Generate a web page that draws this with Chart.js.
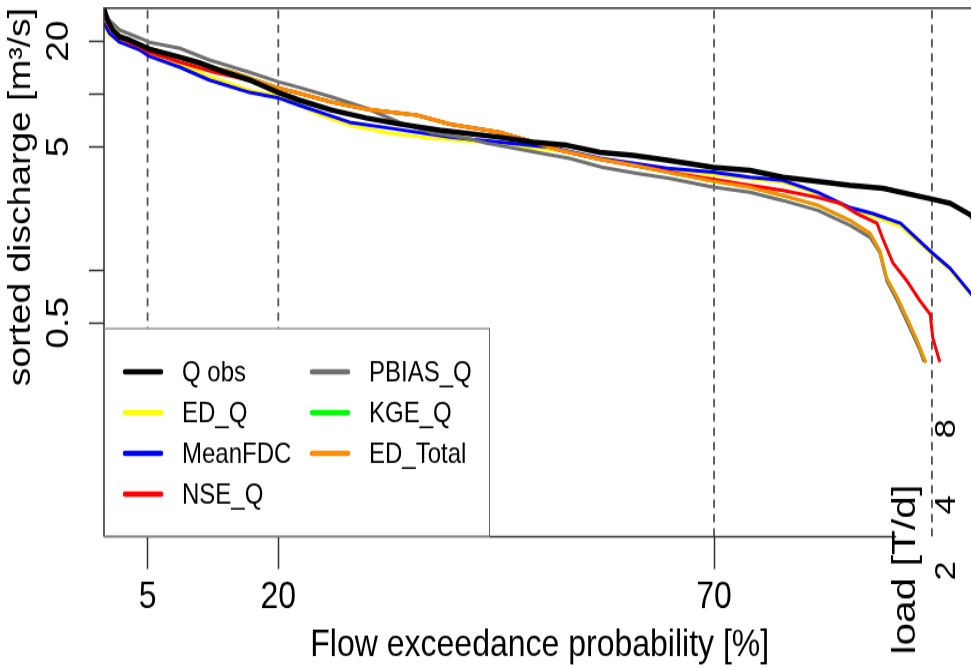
<!DOCTYPE html>
<html>
<head>
<meta charset="utf-8">
<title>Flow duration curves</title>
<script src="https://cdn.jsdelivr.net/npm/chart.js@4.4.1/dist/chart.umd.min.js"></script>
<style>
  html, body { margin: 0; padding: 0; background: #fff; overflow: hidden; }
  #wrap { width: 971px; height: 668px; overflow: hidden; }
</style>
</head>
<body>
<div id="wrap">
  <!-- drawn at 557px high and stretched to 668px, like the original export -->
  <canvas id="fdc" width="990" height="557" style="width:990px;height:668px"></canvas>
</div>
<script>
// axis ranges and ticks
const X_MIN = 0, X_MAX = 100;
const Y_MIN = 0.0304, Y_MAX = 30.8;
const xTicks = [5, 20, 70];
const refLines = [5, 20, 70, 95];
const yTicks = [0.5, 1, 5, 10, 20];
const yTickLabels = [20, 5, 0.5];
const loadTicks = ['2', '4', '8'];

// exceedance probability [%] and sorted discharge [m3/s]
const obsP = [0, 0.4, 1.0, 1.8, 2.9, 5.2, 8.7, 11.0, 13.2, 16.7, 20.0, 22.4, 26.2, 30.1, 33.9, 38.5, 45.4, 49.2, 53.1, 56.9, 60.7, 64.6, 69.9, 74.1, 77.9, 85.6, 89.4, 95.1, 97.1, 99.5, 100];
const obsQ = [30.8, 26.3, 23.1, 21.1, 20.3, 18.0, 16.2, 15.0, 13.7, 12.0, 10.2, 9.22, 8.09, 7.3, 6.75, 6.22, 5.68, 5.32, 5.11, 4.66, 4.48, 4.20, 3.83, 3.68, 3.36, 3.02, 2.91, 2.52, 2.39, 2.04, 1.86];

const edqP = [0, 0.6, 1.8, 5.2, 8.7, 12.1, 16.7, 20.1, 24.8, 28.2, 32.8, 37.7, 43.5, 47.7, 52.3, 56.9, 64.6, 69.9, 74.1, 77.9, 81.9, 85.6, 88.5, 91.4, 95.1, 97.1, 99.5, 100];
const edqQ = [24.7, 21.6, 20.3, 16.9, 14.8, 12.6, 10.5, 9.72, 7.6, 6.64, 5.98, 5.60, 5.32, 4.98, 4.79, 4.31, 3.74, 3.49, 3.30, 3.15, 2.70, 2.24, 2.00, 1.77, 1.22, 1.00, 0.72, 0.66];

const meanP = [0, 0.6, 1.8, 4.1, 5.2, 8.7, 12.1, 16.7, 20.1, 22.4, 28.2, 32.8, 39.7, 45.4, 51.2, 56.9, 64.6, 69.9, 74.1, 77.9, 81.9, 85.6, 88.2, 91.4, 95.1, 97.1, 99.5, 100];
const meanQ = [25.3, 22.2, 19.7, 17.8, 16.4, 14.2, 12.0, 10.2, 9.47, 8.63, 6.91, 6.39, 5.68, 5.32, 4.98, 4.31, 3.78, 3.59, 3.36, 3.23, 2.76, 2.26, 2.09, 1.84, 1.24, 1.02, 0.73, 0.67];

const nseP = [0, 0.6, 1.8, 4.1, 5.2, 8.7, 12.7, 16.7, 20.1, 22.4, 26.2, 30.1, 35.9, 39.7, 45.4, 49.2, 52.3, 56.9, 62.6, 66.4, 69.9, 74.1, 77.9, 81.9, 84.5, 86.4, 88.7, 89.3, 90.5, 92.1, 93.6, 94.8, 95.1, 95.9];
const nseQ = [28.5, 24.0, 20.8, 18.5, 17.3, 15.2, 13.3, 12.0, 10.8, 10.1, 8.98, 8.2, 7.57, 6.73, 6.06, 5.35, 4.79, 4.25, 3.78, 3.49, 3.27, 3.02, 2.83, 2.58, 2.39, 2.09, 1.84, 1.53, 1.10, 0.87, 0.67, 0.56, 0.41, 0.30];

const pbiasP = [0, 0.1, 0.6, 1.8, 4.1, 5.2, 8.7, 12.1, 16.7, 20.1, 22.4, 26.2, 30.1, 33.9, 37.7, 41.6, 43.9, 49.6, 53.4, 57.2, 61.1, 64.9, 69.9, 74.1, 77.9, 81.9, 85.6, 87.9, 89.0, 89.8, 91.0, 92.1, 93.6, 94.1];
const pbiasQ = [30.8, 30.0, 26.3, 23.1, 20.8, 19.7, 18.2, 15.6, 13.3, 11.7, 10.9, 9.6, 8.3, 6.9, 6.0, 5.6, 5.25, 4.66, 4.31, 3.83, 3.54, 3.31, 2.95, 2.76, 2.48, 2.18, 1.79, 1.53, 1.26, 0.87, 0.67, 0.51, 0.35, 0.30];

const edtP = [0, 0.1, 0.6, 1.8, 4.1, 5.2, 8.7, 11.0, 14.8, 20.1, 22.4, 26.2, 30.1, 35.9, 39.7, 45.4, 49.2, 52.3, 56.9, 61.1, 66.4, 69.9, 74.1, 77.9, 81.9, 85.6, 87.9, 89.0, 89.8, 91.0, 92.1, 93.3, 94.3];
const edtQ = [30.0, 28.9, 24.7, 21.6, 19.0, 18.2, 16.0, 14.8, 13.3, 10.8, 10.1, 8.98, 8.2, 7.57, 6.73, 6.06, 5.35, 4.79, 4.25, 3.90, 3.45, 3.19, 2.95, 2.65, 2.33, 1.91, 1.61, 1.29, 0.90, 0.70, 0.535, 0.395, 0.297];

// KGE_Q is not visible anywhere: it sits underneath ED_Total
const kgeP = edtP.slice();
const kgeQ = edtQ.slice();

const legendLabels = ['Q obs', 'ED_Q', 'MeanFDC', 'NSE_Q', 'PBIAS_Q', 'KGE_Q', 'ED_Total'];
const legendColors = ['#000000', '#ffff00', '#0000ff', '#ff0000', '#707070', '#00ff00', '#ff8c00'];

const toXY = (p, q) => p.map((v, i) => ({ x: v, y: q[i] }));

// lower order is drawn on top (Q obs on top of everything)
const curves = [
  { label: 'Q obs', data: toXY(obsP, obsQ), color: legendColors[0], width: 4.5, order: 0 },
  { label: 'ED_Total', data: toXY(edtP, edtQ), color: legendColors[6], width: 3, order: 1 },
  { label: 'NSE_Q', data: toXY(nseP, nseQ), color: legendColors[3], width: 3, order: 2 },
  { label: 'KGE_Q', data: toXY(kgeP, kgeQ), color: legendColors[5], width: 3, order: 3 },
  { label: 'PBIAS_Q', data: toXY(pbiasP, pbiasQ), color: legendColors[4], width: 3, order: 4 },
  { label: 'MeanFDC', data: toXY(meanP, meanQ), color: legendColors[2], width: 3, order: 5 },
  { label: 'ED_Q', data: toXY(edqP, edqQ), color: legendColors[1], width: 3, order: 6 }
];

const datasets = curves.map(c => ({
  label: c.label,
  data: c.data,
  borderColor: c.color,
  borderWidth: c.width,
  order: c.order,
  pointRadius: 0,
  tension: 0,
  fill: false,
  borderJoinStyle: 'round'
}));

refLines.forEach(v => {
  datasets.push({
    label: 'ref' + v,
    data: [{ x: v, y: Y_MIN }, { x: v, y: Y_MAX }],
    borderColor: '#505050',
    borderWidth: 1.8,
    borderDash: [7, 5],
    pointRadius: 0,
    order: 20
  });
});

// box, R style legend and the cut-off load axis of the panel below
const overlay = {
  id: 'overlay',
  afterDraw(chart) {
    const { ctx, chartArea: a, scales } = chart;
    ctx.save();

    ctx.strokeStyle = '#333';
    ctx.lineWidth = 1.6;
    ctx.beginPath();
    ctx.moveTo(a.left, a.bottom);
    ctx.lineTo(a.left, a.top);
    ctx.lineTo(chart.width, a.top);
    ctx.moveTo(a.left, a.bottom);
    ctx.lineTo(scales.x.getPixelForValue(90.9), a.bottom);
    ctx.stroke();

    // legend
    const top = 273.5, right = 490;
    ctx.fillStyle = '#fff';
    ctx.fillRect(a.left, top, right - a.left, a.bottom - top);
    ctx.strokeStyle = '#666';
    ctx.lineWidth = 1;
    ctx.strokeRect(a.left + 0.5, top + 0.5, right - a.left - 1, a.bottom - top - 1);

    ctx.font = '24px "Liberation Sans", Arial, sans-serif';
    ctx.textBaseline = 'middle';
    ctx.textAlign = 'left';
    ctx.lineCap = 'round';
    legendLabels.forEach((lab, i) => {
      const col = i < 4 ? 0 : 1;
      const row = i < 4 ? i : i - 4;
      const y = 310 + row * 34;
      const x = col === 0 ? 125 : 312;
      ctx.strokeStyle = legendColors[i];
      ctx.lineWidth = 4.5;
      ctx.beginPath();
      ctx.moveTo(x, y);
      ctx.lineTo(x + 36, y);
      ctx.stroke();
      ctx.fillStyle = '#000';
      ctx.fillText(lab, x + 57, y + 1);
    });

    // load axis title and labels, rotated
    ctx.fillStyle = '#000';
    ctx.textAlign = 'center';
    ctx.save();
    ctx.translate(906, 475);
    ctx.rotate(-Math.PI / 2);
    ctx.font = '34px "Liberation Sans", Arial, sans-serif';
    ctx.fillText('load [T/d]', 0, 0);
    ctx.restore();

    const loadY = [476, 421, 357.5];
    loadTicks.forEach((t, i) => {
      ctx.save();
      ctx.translate(947, loadY[i]);
      ctx.rotate(-Math.PI / 2);
      ctx.font = '29px "Liberation Sans", Arial, sans-serif';
      ctx.fillText(t, 0, 0);
      ctx.restore();
    });

    ctx.restore();
  }
};

Chart.defaults.font.family = '"Liberation Sans", Arial, sans-serif';
Chart.defaults.color = '#000';

new Chart(document.getElementById('fdc'), {
  type: 'line',
  data: { datasets },
  plugins: [overlay],
  options: {
    responsive: false,
    animation: false,
    devicePixelRatio: 1,
    events: [],
    layout: { padding: { top: 6.7, right: 14.5, left: 0, bottom: 0 } },
    plugins: { legend: { display: false }, tooltip: { enabled: false } },
    scales: {
      x: {
        type: 'linear',
        min: X_MIN,
        max: X_MAX,
        afterBuildTicks: s => { s.ticks = xTicks.map(v => ({ value: v })); },
        afterFit: s => { s.height = 109.5; s.paddingLeft = 0; s.paddingRight = 0; },
        border: { display: false },
        grid: { drawOnChartArea: false, tickLength: 27, tickColor: '#333', tickWidth: 1.5 },
        ticks: { autoSkip: false, maxRotation: 0, padding: 4, font: { size: 32 } },
        title: { display: true, text: 'Flow exceedance probability [%]', padding: 0, font: { size: 32 } }
      },
      y: {
        type: 'logarithmic',
        min: Y_MIN,
        max: Y_MAX,
        afterBuildTicks: s => { s.ticks = yTicks.map(v => ({ value: v })); },
        afterFit: s => { s.width = 104; s.paddingTop = 0; s.paddingBottom = 0; },
        border: { display: false },
        grid: { drawOnChartArea: false, tickLength: 15, tickColor: '#333', tickWidth: 1.5 },
        ticks: {
          autoSkip: false,
          minRotation: 90,
          maxRotation: 90,
          crossAlign: 'center',
          padding: 8,
          font: { size: 31 },
          callback: v => (yTickLabels.includes(v) ? String(v) : '')
        },
        title: { display: true, text: 'sorted discharge [m³/s]', align: 'end', padding: 3, font: { size: 31 } }
      }
    }
  }
});
</script>
</body>
</html>
